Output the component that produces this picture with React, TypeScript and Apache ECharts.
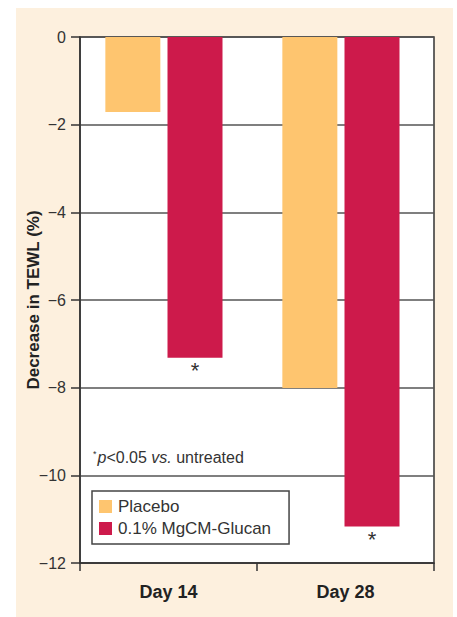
import React, { useEffect, useRef } from "react";
import * as echarts from "echarts";

const categories = ["Day 14", "Day 28"];
const placebo = [-1.71, -8.01];
const mgcm = [-7.32, -11.17];
const seriesNames = ["Placebo", "0.1% MgCM-Glucan"];
const significant = ["*", "*"];
const yAxisTitle = "Decrease in TEWL (%)";

export default function App() {
  const ref = useRef<HTMLDivElement>(null);
  useEffect(() => {
    if (!ref.current) return;
    const chart = echarts.init(ref.current, null, { renderer: "svg" });
    const font = "Liberation Sans";
    chart.setOption({
      animation: false,
      textStyle: { fontFamily: font },
      graphic: [
        {
          type: "rect",
          z: -10,
          silent: true,
          shape: { x: 16, y: 8, width: 437, height: 620 },
          style: { fill: "#fdf0de" },
        },
        {
          type: "text",
          left: 93,
          top: 449,
          z: 10,
          style: {
            text: "{s|*}{i|p}{n|<0.05 }{i|vs.}{n| untreated}",
            rich: {
              s: { fontSize: 9, fill: "#333", fontFamily: font, verticalAlign: "top", padding: [0, 1, 8, 0] },
              i: { fontSize: 16, fill: "#333", fontFamily: font, fontStyle: "italic" },
              n: { fontSize: 16, fill: "#333", fontFamily: font },
            },
          },
        },
      ],
      grid: {
        left: 80,
        top: 37,
        right: 23,
        bottom: 54,
        show: true,
        backgroundColor: "#ffffff",
        borderColor: "#333",
        borderWidth: 1.5,
      },
      legend: {
        orient: "vertical",
        left: 92,
        top: 491,
        data: seriesNames,
        backgroundColor: "#ffffff",
        borderColor: "#444",
        borderWidth: 1.5,
        borderRadius: 0,
        padding: [7, 18, 7, 7],
        itemGap: 5,
        itemWidth: 13,
        itemHeight: 13,
        icon: "rect",
        textStyle: { fontSize: 17, color: "#333", fontFamily: font, padding: [0, 0, 0, 1] },
      },
      xAxis: {
        type: "category",
        data: categories,
        axisLine: { onZero: false, lineStyle: { color: "#333", width: 1.5 } },
        axisTick: { show: true, length: 8, lineStyle: { color: "#333", width: 1.5 } },
        axisLabel: { fontSize: 18, fontWeight: "bold", color: "#222", margin: 20, fontFamily: font },
      },
      yAxis: {
        type: "value",
        min: -12,
        max: 0,
        interval: 2,
        name: yAxisTitle,
        nameLocation: "middle",
        nameRotate: 90,
        nameGap: 38,
        nameMoveOverlap: false,
        nameTextStyle: { fontSize: 17, fontWeight: "bold", color: "#222", fontFamily: font },
        axisLine: { show: true, lineStyle: { color: "#333", width: 1.5 } },
        axisTick: { show: true, length: 9, lineStyle: { color: "#333", width: 1.5 } },
        axisLabel: {
          fontSize: 16,
          color: "#333",
          margin: 14,
          fontFamily: font,
          formatter: (v: number) => (v === 0 ? "0" : "\u2212" + Math.abs(v)),
        },
        splitLine: { show: true, lineStyle: { color: "#555", width: 1.5 } },
      },
      series: [
        {
          name: seriesNames[0],
          type: "bar",
          data: placebo,
          barWidth: 55,
          barGap: "13%",
          itemStyle: { color: "#fec56f" },
        },
        {
          name: seriesNames[1],
          type: "bar",
          data: mgcm,
          barWidth: 55,
          itemStyle: { color: "#cd1a4b" },
          label: {
            show: true,
            position: "bottom",
            distance: 2,
            fontSize: 22,
            color: "#333",
            fontFamily: font,
            formatter: (p: any) => significant[p.dataIndex],
          },
        },
        {
          name: "spacer",
          type: "bar",
          data: [null, null],
          barWidth: 2,
          silent: true,
        },
      ],
    });
    return () => chart.dispose();
  }, []);
  return (
    <div
      ref={ref}
      style={{ position: "fixed", left: 0, top: 0, width: 457, height: 617, background: "#ffffff" }}
    />
  );
}
